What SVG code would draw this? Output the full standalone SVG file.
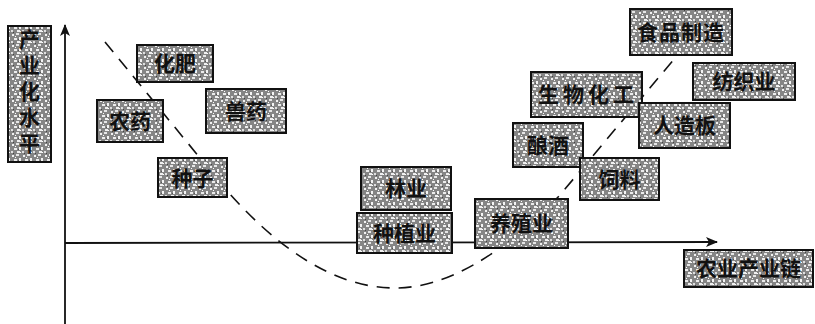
<svg xmlns="http://www.w3.org/2000/svg" width="815" height="324" viewBox="0 0 815 324">
<style>
.box{fill:url(#speck);stroke:#111;stroke-width:2}
.t{font-family:"Noto Sans CJK SC","Noto Sans",sans-serif;font-weight:bold;font-size:21px;fill:#111;text-anchor:middle}
.ax{stroke:#111;stroke-width:1.8;fill:none}
.curve{stroke:#111;stroke-width:1.6;fill:none;stroke-dasharray:13,9}
</style>
<defs>
<pattern id="speck" width="11" height="11" patternUnits="userSpaceOnUse">
<rect width="11" height="11" fill="#858585"/>
<rect x="1" y="1" width="2" height="2" fill="#f2f2f2"/>
<rect x="5" y="0" width="3" height="2" fill="#e6e6e6"/>
<rect x="8" y="4" width="2" height="3" fill="#f4f4f4"/>
<rect x="3" y="5" width="3" height="2" fill="#ececec"/>
<rect x="0" y="8" width="2" height="2" fill="#e0e0e0"/>
<rect x="6" y="8" width="3" height="2" fill="#f0f0f0"/>
<rect x="4" y="3" width="1" height="1" fill="#fff"/>
<rect x="9" y="9" width="1" height="1" fill="#fff"/>
<rect x="2" y="10" width="1" height="1" fill="#444"/>
<rect x="7" y="6" width="1" height="1" fill="#555"/>
</pattern>
<marker id="arr" viewBox="0 0 12 10" refX="11" refY="5" markerWidth="12" markerHeight="10" markerUnits="userSpaceOnUse" orient="auto">
<path d="M0,0 L12,5 L0,10 L3,5 Z" fill="#111"/>
</marker>
</defs>
<g id="connectors">
<line class="ax" x1="65" y1="324" x2="65" y2="25" marker-end="url(#arr)"/>
<line class="ax" x1="65" y1="243" x2="717" y2="242" marker-end="url(#arr)"/>
<path class="curve" d="M105,42 L200,158 Q300,288 395,288 Q470,288 560,195 L675,58"/>
</g>
<g id="n-ylabel"><rect class="box" x="8" y="26" width="43" height="136"/>
<text class="t" x="29.5" y="94" style="writing-mode:vertical-rl;text-orientation:upright" letter-spacing="5">产业化水平</text></g>
<g id="n-huafei"><rect class="box" x="137" y="45" width="76" height="37"/><text class="t" x="175" y="71">化肥</text></g>
<g id="n-nongyao"><rect class="box" x="97" y="100" width="66" height="42"/><text class="t" x="130" y="129">农药</text></g>
<g id="n-shouyao"><rect class="box" x="206" y="89" width="80" height="44"/><text class="t" x="246" y="119">兽药</text></g>
<g id="n-zhongzi"><rect class="box" x="158" y="158" width="69" height="39"/><text class="t" x="192.5" y="186">种子</text></g>
<g id="n-linye"><rect class="box" x="361" y="167" width="90" height="43"/><text class="t" x="406" y="196">林业</text></g>
<g id="n-zhongzhi"><rect class="box" x="357" y="213" width="95" height="40"/><text class="t" x="404.5" y="241">种植业</text></g>
<g id="n-yangzhi"><rect class="box" x="475" y="199" width="93" height="49"/><text class="t" x="521.5" y="231">养殖业</text></g>
<g id="n-shipin"><rect class="box" x="630" y="9" width="102" height="46"/><text class="t" x="681" y="40" letter-spacing="1">食品制造</text></g>
<g id="n-shengwu"><rect class="box" x="531" y="72" width="111" height="45"/><text class="t" x="588" y="102" letter-spacing="4">生物化工</text></g>
<g id="n-fangzhi"><rect class="box" x="693" y="63" width="102" height="37"/><text class="t" x="744" y="89">纺织业</text></g>
<g id="n-renzao"><rect class="box" x="639" y="103" width="91" height="45"/><text class="t" x="684.5" y="133">人造板</text></g>
<g id="n-niangjiu"><rect class="box" x="513" y="123" width="70" height="44"/><text class="t" x="548" y="153">酿酒</text></g>
<g id="n-siliao"><rect class="box" x="580" y="158" width="79" height="42"/><text class="t" x="619.5" y="187">饲料</text></g>
<g id="n-chain"><rect class="box" x="684" y="250" width="129" height="37"/><text class="t" x="748.5" y="276">农业产业链</text></g>
</svg>
